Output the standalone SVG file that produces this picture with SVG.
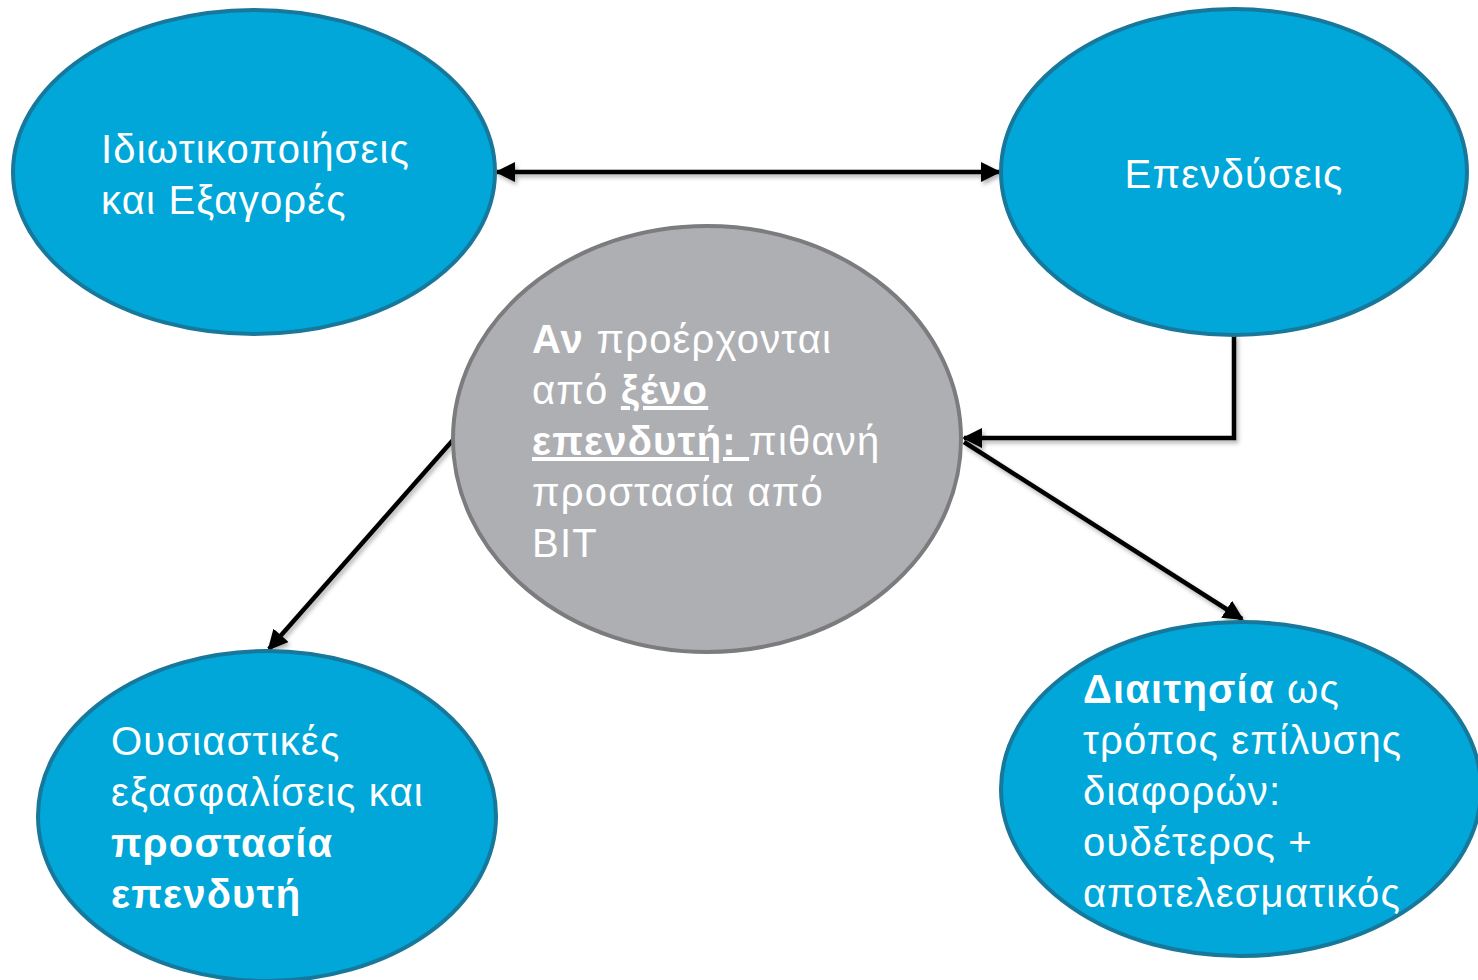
<svg xmlns="http://www.w3.org/2000/svg" width="1478" height="980" viewBox="0 0 1478 980">
<style>
.blue{fill:#00A7D8;stroke:#17789C;stroke-width:4}
.gray{fill:#AEAFB3;stroke:#7C7C7E;stroke-width:4}
.t{font-family:"Liberation Sans",Arial,sans-serif;font-size:40px;letter-spacing:1.2px;fill:#ffffff}
.b{font-weight:bold}
.u{text-decoration:underline}
.c{fill:none;stroke:#000;stroke-width:4.5}
</style>
<defs>
<marker id="ah" viewBox="0 0 10 10" refX="9" refY="5" markerWidth="4.5" markerHeight="4.5" orient="auto-start-reverse" markerUnits="strokeWidth">
<path d="M0,0 L10,5 L0,10 z" fill="#000"/>
</marker>
<filter id="sh" filterUnits="userSpaceOnUse" x="0" y="0" width="1478" height="980">
<feDropShadow dx="2" dy="3" stdDeviation="2" flood-color="#000" flood-opacity="0.3"/>
</filter>
</defs>
<rect width="1478" height="980" fill="#fff"/>
<g id="connectors" filter="url(#sh)">
<line class="c" x1="497" y1="172" x2="999" y2="172" marker-start="url(#ah)" marker-end="url(#ah)"/>
<polyline class="c" points="1234,335 1234,438 964,438" marker-end="url(#ah)"/>
<line class="c" x1="964" y1="442" x2="1242" y2="619" marker-end="url(#ah)"/>
<line class="c" x1="453" y1="440" x2="269" y2="649" marker-end="url(#ah)"/>
</g>
<g id="node-privatizations">
<ellipse class="blue" cx="254" cy="172" rx="241" ry="162"/>
<text class="t" x="101" y="163">Ιδιωτικοποιήσεις</text>
<text class="t" x="101" y="214">και Εξαγορές</text>
</g>
<g id="node-investments">
<ellipse class="blue" cx="1234" cy="172" rx="233" ry="163"/>
<text class="t" x="1234" y="188" text-anchor="middle">Επενδύσεις</text>
</g>
<g id="node-center">
<ellipse class="gray" cx="707" cy="439" rx="254" ry="213"/>
<text class="t" x="532" y="353"><tspan class="b">Αν</tspan> προέρχονται</text>
<text class="t" x="532" y="404">από <tspan class="b u">ξένο</tspan></text>
<text class="t" x="532" y="455"><tspan class="b u">επενδυτή: </tspan>πιθανή</text>
<text class="t" x="532" y="506">προστασία από</text>
<text class="t" x="532" y="557">BIT</text>
</g>
<g id="node-guarantees">
<ellipse class="blue" cx="267" cy="816" rx="229" ry="165"/>
<text class="t" x="111" y="755">Ουσιαστικές</text>
<text class="t" x="111" y="806">εξασφαλίσεις και</text>
<text class="t b" x="111" y="857">προστασία</text>
<text class="t b" x="111" y="908">επενδυτή</text>
</g>
<g id="node-arbitration">
<ellipse class="blue" cx="1241" cy="789" rx="240" ry="167"/>
<text class="t" x="1083" y="703"><tspan class="b">Διαιτησία</tspan> ως</text>
<text class="t" x="1083" y="754">τρόπος επίλυσης</text>
<text class="t" x="1083" y="805">διαφορών:</text>
<text class="t" x="1083" y="856">ουδέτερος +</text>
<text class="t" x="1083" y="907">αποτελεσματικός</text>
</g>
</svg>
